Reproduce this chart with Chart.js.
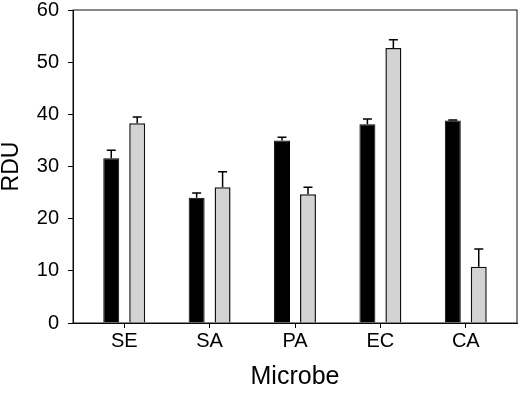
<!DOCTYPE html>
<html>
<head>
<meta charset="utf-8">
<script src="https://cdn.jsdelivr.net/npm/chart.js@4/dist/chart.umd.min.js"></script>
<style>
  html, body { margin: 0; padding: 0; background: #fff; }
  #wrap { width: 520px; height: 393px; }
</style>
</head>
<body>
<div id="wrap"><canvas id="rduChart"></canvas></div>
<script>
// Chart data
const microbes = ["SE", "SA", "PA", "EC", "CA"];
const blackValues = [31.6, 24.0, 35.0, 38.1, 38.8];
const blackErrors = [1.5, 0.9, 0.6, 1.0, 0.1];
const grayValues = [38.3, 26.0, 24.7, 52.7, 10.8];
const grayErrors = [1.2, 3.0, 1.3, 1.6, 3.4];
const yTicks = [0, 10, 20, 30, 40, 50, 60];

const FONT = "Liberation Sans, Arial, sans-serif";

// Upward-only error bars, drawn through the y scale
const errorBars = {
  id: "errorBars",
  afterDatasetsDraw(chart) {
    const ctx = chart.ctx;
    const yScale = chart.scales.y;
    ctx.save();
    ctx.strokeStyle = "#000";
    ctx.lineWidth = 1.5;
    chart.data.datasets.forEach((ds, di) => {
      const meta = chart.getDatasetMeta(di);
      meta.data.forEach((bar, i) => {
        const top = yScale.getPixelForValue(ds.values[i] + ds.errors[i]);
        ctx.beginPath();
        ctx.moveTo(bar.x, bar.y);
        ctx.lineTo(bar.x, top);
        ctx.moveTo(bar.x - 4.5, top);
        ctx.lineTo(bar.x + 4.5, top);
        ctx.stroke();
      });
    });
    ctx.restore();
  }
};

// Box around the plot area
const frame = {
  id: "frame",
  afterDraw(chart) {
    const { left, top, right, bottom } = chart.chartArea;
    const ctx = chart.ctx;
    ctx.save();
    ctx.strokeStyle = "#111";
    ctx.lineWidth = 1;
    ctx.strokeRect(left, top, right - left, bottom - top);
    ctx.restore();
  }
};

const toPoints = arr => arr.map((v, i) => ({ x: i, y: v }));

new Chart(document.getElementById("rduChart"), {
  type: "bar",
  data: {
    datasets: [{
      data: toPoints(blackValues),
      values: blackValues,
      errors: blackErrors,
      backgroundColor: "#000",
      borderColor: "#000",
      borderWidth: 1
    }, {
      data: toPoints(grayValues),
      values: grayValues,
      errors: grayErrors,
      backgroundColor: "#d3d3d3",
      borderColor: "#111",
      borderWidth: 1.5
    }]
  },
  plugins: [errorBars, frame],
  options: {
    responsive: true,
    maintainAspectRatio: false,
    animation: false,
    categoryPercentage: 0.608,
    barPercentage: 0.615,
    layout: { padding: { top: 10, right: 3, bottom: 3, left: 0 } },
    scales: {
      x: {
        type: "linear",
        min: -0.6,
        max: 4.6,
        offset: false,
        grid: { display: true, offset: false, drawOnChartArea: false, tickLength: 5, color: "#000" },
        border: { display: true, color: "#000" },
        afterFit: scale => { scale.paddingLeft = 0; scale.paddingRight = 0; },
        ticks: {
          stepSize: 1,
          includeBounds: false,
          padding: 3,
          color: "#000",
          font: { family: FONT, size: 20, lineHeight: 1 },
          callback: v => microbes[v] ?? ""
        },
        title: {
          display: true,
          text: "Microbe",
          color: "#000",
          padding: { top: 11, bottom: 0 },
          font: { family: FONT, size: 25, lineHeight: 1 }
        }
      },
      y: {
        min: 0,
        max: 60,
        afterBuildTicks: scale => { scale.ticks = yTicks.map(v => ({ value: v })); },
        afterFit: scale => { scale.paddingTop = 0; scale.paddingBottom = 0; scale.width = 73; },
        grid: { display: true, drawOnChartArea: false, tickLength: 5, color: "#000" },
        border: { display: true, color: "#000" },
        ticks: {
          padding: 9,
          color: "#000",
          font: { family: FONT, size: 20, lineHeight: 1 }
        },
        title: {
          display: true,
          text: "RDU",
          color: "#000",
          padding: { top: 0, bottom: 14 },
          font: { family: FONT, size: 23, lineHeight: 1 }
        }
      }
    },
    plugins: {
      legend: { display: false },
      tooltip: { enabled: false }
    }
  }
});
</script>
</body>
</html>
